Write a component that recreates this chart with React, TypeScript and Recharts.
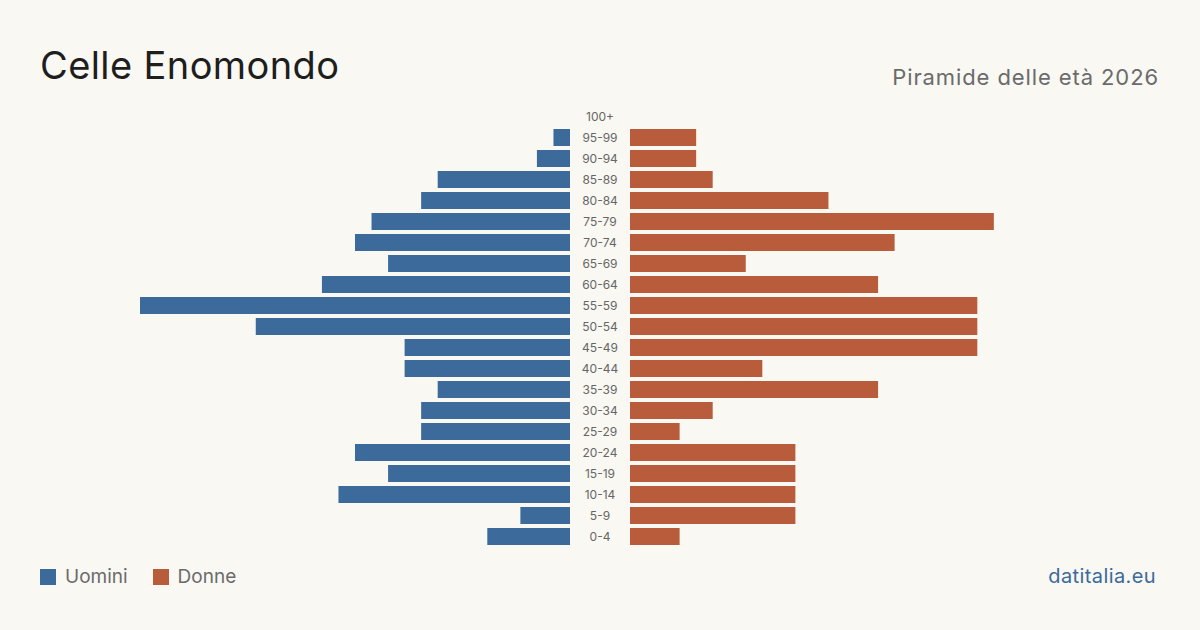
import { BarChart, Bar, XAxis, YAxis } from "recharts";

// Age groups, top of the pyramid first
const ages = [
  "100+", "95-99", "90-94", "85-89", "80-84", "75-79", "70-74", "65-69", "60-64", "55-59",
  "50-54", "45-49", "40-44", "35-39", "30-34", "25-29", "20-24", "15-19", "10-14", "5-9", "0-4",
];
const men = [0, 1, 2, 8, 9, 12, 13, 11, 15, 26, 19, 10, 10, 8, 9, 9, 13, 11, 14, 3, 5];
const women = [0, 4, 4, 5, 12, 22, 16, 7, 15, 21, 21, 21, 8, 15, 5, 3, 10, 10, 10, 10, 3];

const MAX = 26;
const BLUE = "#3b6a9b";
const RUST = "#b95c3c";
const FONT = "Inter, 'Noto Sans', sans-serif";

const data = ages.map((age, i) => ({ age, men: men[i], women: women[i] }));

const AgeTick = (props: any) => {
  const { y, payload } = props;
  return (
    <text x={30} y={y} textAnchor="middle" dominantBaseline="central" fontSize={12} fill="#666" fontFamily={FONT}>
      {payload.value}
    </text>
  );
};

const App = () => {
  return (
    <div style={{ position: "absolute", left: 0, top: 0, width: 1200, height: 630, background: "#f9f8f3", fontFamily: FONT, overflow: "hidden" }}>
      <div style={{ position: "absolute", left: 40, top: 40, fontSize: 38, letterSpacing: 0.4, color: "#1e1e1e", lineHeight: "50px" }}>Celle Enomondo</div>
      <div style={{ position: "absolute", right: 41, top: 62, fontSize: 22, letterSpacing: 0.9, color: "#6b6b6b", lineHeight: "30px" }}>Piramide delle età 2026</div>

      {/* Men, growing leftwards */}
      <div style={{ position: "absolute", left: 140, top: 106 }}>
        <BarChart width={430} height={441} data={data} layout="vertical" margin={{ top: 0, right: 0, bottom: 0, left: 0 }}>
          <XAxis type="number" domain={[0, MAX]} reversed hide />
          <YAxis type="category" dataKey="age" hide />
          <Bar dataKey="men" fill={BLUE} barSize={17} isAnimationActive={false} />
        </BarChart>
      </div>

      {/* Women, with the age labels in the middle column */}
      <div style={{ position: "absolute", left: 570, top: 106 }}>
        <BarChart width={490} height={441} data={data} layout="vertical" margin={{ top: 0, right: 0, bottom: 0, left: 0 }}>
          <XAxis type="number" domain={[0, MAX]} hide />
          <YAxis type="category" dataKey="age" width={60} axisLine={false} tickLine={false} tick={<AgeTick />} interval={0} />
          <Bar dataKey="women" fill={RUST} barSize={17} isAnimationActive={false} />
        </BarChart>
      </div>

      <div style={{ position: "absolute", left: 40, top: 567, display: "flex", alignItems: "center", fontSize: 19, color: "#6b6b6b", lineHeight: "20px" }}>
        <span style={{ width: 16, height: 16, background: BLUE, display: "inline-block", marginRight: 9 }} />
        <span>Uomini</span>
        <span style={{ width: 16, height: 16, background: RUST, display: "inline-block", marginLeft: 25, marginRight: 9 }} />
        <span>Donne</span>
      </div>
      <div style={{ position: "absolute", right: 44, top: 563, fontSize: 20, letterSpacing: 0.4, color: BLUE, lineHeight: "26px" }}>datitalia.eu</div>
    </div>
  );
};

export default App;
